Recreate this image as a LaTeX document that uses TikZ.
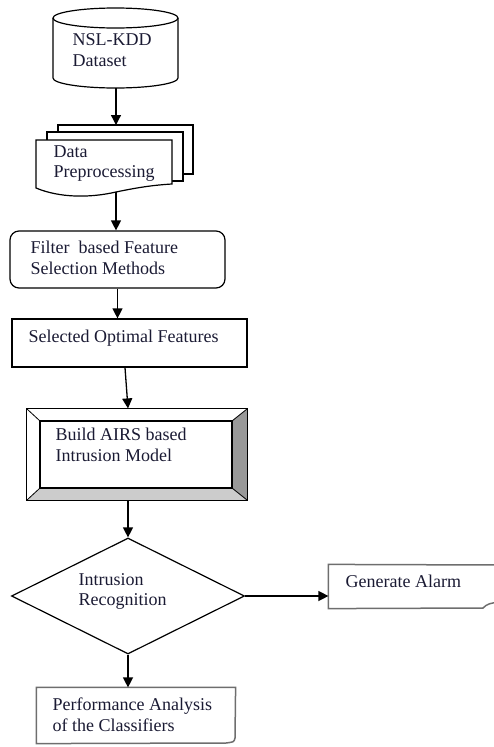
\documentclass[tikz,border=0pt]{standalone}
\usepackage{fontspec}
\setmainfont{Liberation Serif}
\usetikzlibrary{shapes.geometric,arrows.meta}
\definecolor{txt}{HTML}{1A1A33}
\definecolor{bevdark}{HTML}{999999}
\definecolor{bevlight}{HTML}{CCCCCC}
\definecolor{grayline}{HTML}{6E6E6E}
\begin{document}
\begin{tikzpicture}[x=1pt,y=1pt,
  line width=1.2pt,
  arr/.style={-{Triangle[width=10pt,length=10pt]}, line width=1.3pt},
  lbl/.style={anchor=base west, inner sep=0pt, font=\fontsize{18}{21}\selectfont, text=txt},
  slot/.style={rectangle, inner sep=0pt, draw=none},
  boxed/.style={rectangle, inner sep=0pt, draw=black, line width=1.2pt},
  note/.style={draw=grayline, line width=1.5pt}
]
\useasboundingbox (0,0) rectangle (494,-747);
\clip (0,0) rectangle (494,-747);

% ---- cylinder: NSL-KDD Dataset
\draw[fill=white] (53,-18) -- (53,-78) arc[start angle=180,end angle=360,x radius=62.5,y radius=10] -- (178,-18);
\draw (115.5,-18) ellipse [x radius=62.5, y radius=10];
\coordinate (cylbot) at (116,-88);
\node[lbl] (t1a) at (72,-45) {NSL-KDD};
\node[lbl] (t1b) at (72,-66) {Dataset};

% ---- multi-document: Data Preprocessing
\draw (58,-132) -- (58,-125) -- (193,-125) -- (193,-174) -- (183,-174);
\draw (47,-140) -- (47,-132) -- (183,-132) -- (183,-181) -- (172,-181);
\coordinate (doctop) at (116,-125);
\draw[fill=white] (36,-140) -- (172,-140) -- (172,-184)
   .. controls (155,-185) and (140,-187) .. (116,-192)
   .. controls (90,-198) and (60,-198) .. (36,-188) -- cycle;
\coordinate (docbot) at (116,-192);
\node[lbl] (t2a) at (53,-157) {Data};
\node[lbl] (t2b) at (53,-177) {Preprocessing};

% ---- rounded box: Filter based Feature Selection Methods
\node[boxed, rounded corners=9pt, minimum width=215pt, minimum height=57pt] (filt) at (117.5,-259.5) {};
\node[lbl] (t3a) at (30,-253) {Filter\ \ based Feature};
\node[lbl] (t3b) at (30,-274) {Selection Methods};

% ---- rectangle: Selected Optimal Features
\node[boxed, minimum width=235pt, minimum height=48pt] (sel) at (129.5,-343) {};
\node[lbl] (t4) at (28,-342) {Selected Optimal Features};

% ---- bevel box: Build AIRS based Intrusion Model
\node[slot, minimum width=220pt, minimum height=91pt] (build) at (137,-454.5) {};
\fill[white] (27,-409) -- (247,-409) -- (232,-421) -- (40,-421) -- cycle;
\fill[white] (27,-409) -- (40,-421) -- (40,-488) -- (27,-500) -- cycle;
\fill[bevdark] (247,-409) -- (247,-500) -- (232,-488) -- (232,-421) -- cycle;
\fill[bevlight] (27,-500) -- (247,-500) -- (232,-488) -- (40,-488) -- cycle;
\draw[line width=0.8pt] (27,-409) -- (40,-421) (247,-409) -- (232,-421)
      (27,-500) -- (40,-488) (247,-500) -- (232,-488);
\draw (build.north west) rectangle (build.south east);
\draw (40,-421) rectangle (232,-488);
\node[lbl] (t5a) at (55,-440) {Build AIRS based};
\node[lbl] (t5b) at (55,-461) {Intrusion Model};

% ---- diamond: Intrusion Recognition
\node[draw, diamond, inner sep=0pt, minimum width=233pt, minimum height=116pt, line width=1.2pt] (dia) at (128,-596) {};
\node[lbl] (t6a) at (78,-585) {Intrusion};
\node[lbl] (t6b) at (78,-605) {Recognition};

% ---- note: Generate Alarm
\node[slot, minimum width=171pt, minimum height=43pt] (gen) at (414.5,-586.5) {};
\draw[note] (500,-565) -- (gen.north west) -- (gen.south west) -- (483,-608)
   .. controls (487,-604) and (490,-603) .. (500,-602);
\node[lbl] (t7) at (345,-587) {Generate Alarm};

% ---- note: Performance Analysis of the Classifiers
\node[slot, minimum width=198pt, minimum height=55pt] (perf) at (136,-715.5) {};
\draw[note] (perf.north west) -- (perf.north east) -- (235,-738)
   .. controls (234,-742) .. (226,-743) -- (perf.south west) -- cycle;
\node[lbl] (t8a) at (52,-710) {Performance Analysis};
\node[lbl] (t8b) at (52,-731) {of the Classifiers};

% ---- connectors
\draw[arr] (cylbot) -- (doctop);
\draw[arr] (docbot) -- (docbot |- filt.north);
\draw[arr] (filt.south) -- (filt.south |- sel.north);
\draw[arr] (sel.south -| 125,0) -- (build.north -| dia.north);
\draw[arr] (build.south -| dia.north) -- (dia.north);
\draw[arr] (dia.east) -- (dia.east -| gen.west);
\draw[arr] (dia.south) -- (dia.south |- perf.north);
\end{tikzpicture}
\end{document}
